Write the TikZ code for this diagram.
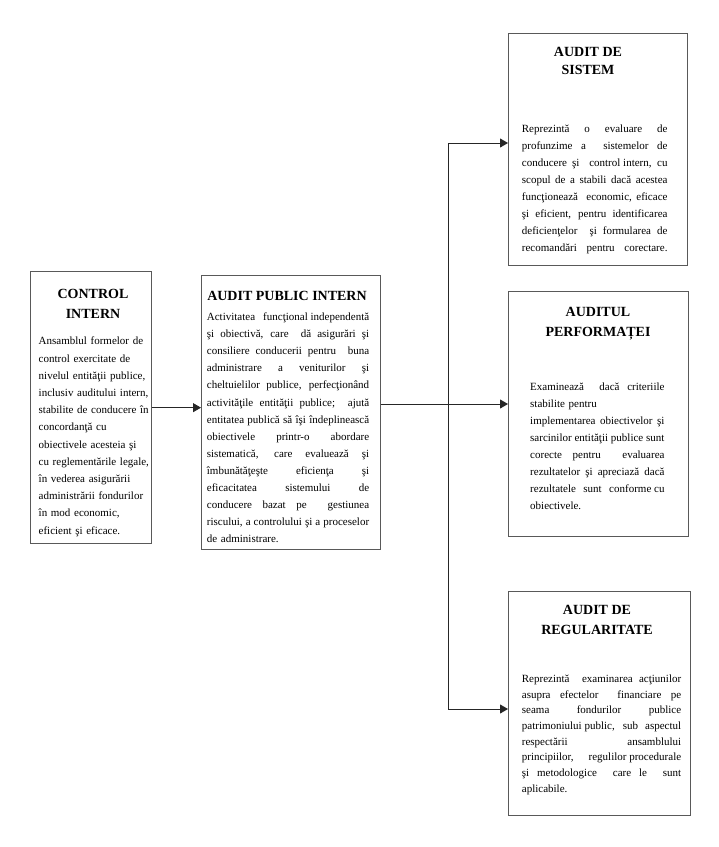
\documentclass[tikz,border=0pt]{standalone}
\usepackage{fontspec}
\setmainfont{Liberation Serif}
\usetikzlibrary{arrows.meta}
\setlength{\parindent}{0pt}
\newlength\bw
\newcommand\jl[1]{\leavevmode\hbox to\bw{\spaceskip=\fontdimen2\font plus 1fil\relax #1}}
\newcommand\fs{\kern\fontdimen2\font}
\begin{document}
\begin{tikzpicture}[x=1pt,y=-1pt,
  box/.style={draw=black!65, line width=1.3pt, anchor=north west, inner sep=0pt},
  ttl/.style={anchor=north, inner sep=0pt, align=center, font=\fontsize{14}{20}\selectfont\bfseries},
  bdy/.style={anchor=north west, inner sep=0pt, align=left, text width=#1,
              execute at begin node={\setlength\bw{#1}}},
  conn/.style={line width=0.9pt, draw=black!85},
  arr/.style={conn, -{Triangle[length=8pt,width=9pt]}}]
\useasboundingbox[fill=white] (0,0) rectangle (719,847);

% boxes
\node[box, minimum width=121pt, minimum height=272pt] (ci)  at (30,271) {};
\node[box, minimum width=179pt, minimum height=274pt] (api) at (201,275) {};
\node[box, minimum width=179pt, minimum height=232pt] (as)  at (508,33) {};
\node[box, minimum width=180pt, minimum height=245pt] (ap)  at (508,291) {};
\node[box, minimum width=182pt, minimum height=224pt] (ar)  at (508,591) {};

% titles
\node[ttl] (tci)  at (93,289.5) {CONTROL\\INTERN};
\node[ttl] (tapi) at (287,291) {AUDIT PUBLIC INTERN};
\node[ttl, font=\fontsize{14}{17.3}\selectfont\bfseries] (tas) at (588,47.5) {AUDIT DE\\SISTEM};
\node[ttl] (tap)  at (598,307) {AUDITUL\\PERFORMAȚEI};
\node[ttl] (tar)  at (597,605.5) {AUDIT DE\\REGULARITATE};

% bodies
\node[bdy=113pt, font=\fontsize{11}{17.2}\selectfont] (bci) at (38.5,337) {%
Ansamblul formelor de\\
control exercitate de\\
nivelul entităţii publice,\\
inclusiv auditului intern,\\
stabilite de conducere în\\
concordanţă cu\\
obiectivele acesteia şi\\
cu reglementările legale,\\
în vederea asigurării\\
administrării fondurilor\\
în mod economic,\\
eficient şi eficace.};

\node[bdy=162.3pt, font=\fontsize{11}{17.05}\selectfont] (bapi) at (206.7,312.8) {%
\jl{Activitatea\ \ funcţional\fs independentă}\\
\jl{şi obiectivă, care\ \ dă asigurări şi}\\
\jl{consiliere conducerii pentru\ \ buna}\\
\jl{administrare a veniturilor şi}\\
\jl{cheltuielilor publice, perfecţionând}\\
\jl{activităţile entităţii publice;\ \ ajută}\\
\jl{entitatea publică să îşi îndeplinească}\\
\jl{obiectivele printr-o abordare}\\
\jl{sistematică, care evaluează şi}\\
\jl{îmbunătăţeşte eficienţa şi}\\
\jl{eficacitatea sistemului de}\\
\jl{conducere bazat pe\ \ gestiunea}\\
\jl{riscului, a controlului şi a proceselor}\\
de administrare.};

\node[bdy=145.6pt, font=\fontsize{11}{17}\selectfont] (bas) at (521.7,124.2) {%
\jl{Reprezintă o evaluare de}\\
\jl{profunzime a\ \ sistemelor de}\\
\jl{conducere şi\ \ control\fs intern, cu}\\
\jl{scopul de a stabili dacă acestea}\\
\jl{funcţionează\ \ economic, eficace}\\
\jl{şi eficient, pentru identificarea}\\
\jl{deficienţelor\ \ şi formularea de}\\
\jl{recomandări pentru corectare.}};

\node[bdy=134.3pt, font=\fontsize{11}{17}\selectfont] (bap) at (530,382.5) {%
\jl{Examinează\ \ dacă criteriile}\\
stabilite pentru\\
\jl{implementarea obiectivelor şi}\\
\jl{sarcinilor entităţii publice sunt}\\
\jl{corecte pentru\ \ evaluarea}\\
\jl{rezultatelor şi apreciază dacă}\\
\jl{rezultatele sunt conforme\fs cu}\\
obiectivele.};

\node[bdy=159.3pt, font=\fontsize{11}{15.7}\selectfont] (bar) at (521.7,674.5) {%
\jl{Reprezintă\ \ examinarea acţiunilor}\\
\jl{asupra efectelor\ \ financiare pe}\\
\jl{seama fondurilor publice}\\
\jl{patrimoniului\fs public, sub aspectul}\\
\jl{respectării ansamblului}\\
\jl{principiilor,\ \ regulilor\fs procedurale}\\
\jl{şi metodologice\ \ care le\ \ sunt}\\
aplicabile.};

% connectors
\coordinate (j)  at (448,404);
\coordinate (t1) at (448,143);
\coordinate (t3) at (448,709);
\draw[arr] (ci.east) -- (ci.east -| api.west);
\draw[conn] (api.east |- j) -- (j);
\draw[arr] (j) -- (j -| ap.west);
\draw[conn] (t1) -- (t3);
\draw[arr] (t1) -- (t1 -| as.west);
\draw[arr] (t3) -- (t3 -| ar.west);
\end{tikzpicture}
\end{document}
